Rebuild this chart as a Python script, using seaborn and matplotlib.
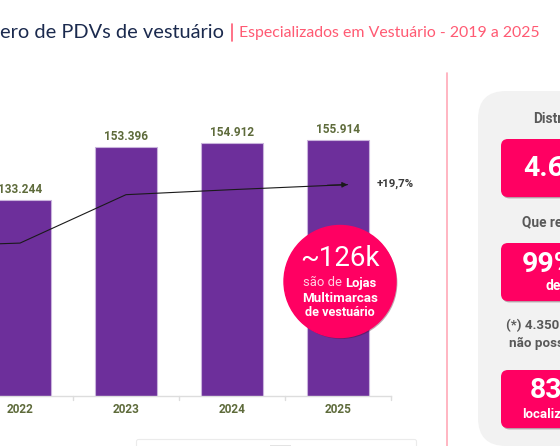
# Numero de PDVs de vestuario - bars plus trend line
import matplotlib
matplotlib.use("Agg")
import matplotlib.pyplot as plt
import matplotlib.patheffects as pe
from matplotlib.patches import Circle, FancyBboxPatch, Rectangle
import pandas as pd
import seaborn as sns

years = ["2022", "2023", "2024", "2025"]
pdvs = [133244, 153396, 154912, 155914]
bar_labels = ["133.244", "153.396", "154.912", "155.914"]

# trend line (position in year slots, value on the bar scale)
trend_pos = [-1.0, 0.0, 1.0, 2.0, 3.09]
trend_val = [115800, 117100, 135400, 137300, 139200]

sns.set_theme(style="white")
plt.rcParams["font.family"] = ["Roboto", "DejaVu Sans"]

purple = "#6D2F9B"
pink = "#FF0062"
olive = "#5E6B3B"
gray_txt = "#595959"

df = pd.DataFrame({"year": years, "pdvs": pdvs})

fig = plt.figure(figsize=(5.6, 4.46), dpi=100)

# bars: full canvas wide down to the base line at y=396
ax = fig.add_axes([0, (446 - 396) / 446, 391 / 560, 396 / 446])
sns.barplot(data=df, x="year", y="pdvs", order=years, color=purple, width=0.585,
            saturation=1, edgecolor="#C9B3DC", linewidth=0.8, ax=ax)
ax.set_xlim(-20 / 106, 3.5)
ax.set_ylim(59300, 59300 + 396 * 378)
ax.set_xlabel("")
ax.set_ylabel("")
ax.set_yticks([])
ax.set_xticks(range(4))
ax.set_xticklabels(years, color=olive, fontweight="bold", fontsize=8.5)
ax.tick_params(axis="x", length=0, pad=5)
for s in ["top", "left", "right"]:
    ax.spines[s].set_visible(False)
ax.spines["bottom"].set_color("#DDDDDD")
ax.spines["bottom"].set_linewidth(1)
ax.patch.set_alpha(0)

for i, lab in enumerate(bar_labels):
    ax.annotate(lab, (i, pdvs[i]), xytext=(0, 3), textcoords="offset points",
                ha="center", va="bottom", color=olive, fontweight="bold", fontsize=8.5)

# trend line with arrow head
sns.lineplot(x=trend_pos, y=trend_val, color="#1A1A1A", linewidth=0.8, ax=ax, legend=False)
ax.annotate("", xy=(trend_pos[-1], trend_val[-1]), xytext=(trend_pos[-2] + 0.9, trend_val[-2] + 1650),
            arrowprops=dict(arrowstyle="-|>", color="#1A1A1A", lw=0.8, mutation_scale=8, shrinkA=0, shrinkB=0))

# overlay in pixel coordinates for the slide furniture
ov = fig.add_axes([0, 0, 1, 1])
ov.set_xlim(0, 560)
ov.set_ylim(446, 0)
ov.axis("off")
ov.patch.set_alpha(0)

ov.text(377, 184, "+19,7%", color="#3A3A3A", fontweight="bold", fontsize=8.2, va="center")

for x in [73, 179, 285, 391]:
    ov.plot([x, x], [396, 400], color="#DDDDDD", lw=1)

ov.text(0, 32, "ero de PDVs de vestuário", fontsize=14.45, color="#1B2A4E", va="center", family="Lato")
ov.plot([231.5, 231.5], [24, 41], color="#FF5A73", lw=1.2)
ov.text(239, 33.5, "Especializados em Vestuário - 2019 a 2025", fontsize=11.4, color="#FF5A73",
        va="center", family="Lato")

# callout circle
shadow = [pe.SimplePatchShadow(offset=(1, -1), alpha=0.35), pe.Normal()]
ov.add_patch(Circle((340, 281.5), 56, color=pink, path_effects=shadow, zorder=5))
ov.text(340, 259, "~126k", color="white", fontsize=20, ha="center", va="center", zorder=6)
ov.text(342, 283, "são de", color="#FFD0E2", fontsize=9.4, ha="right", va="center", zorder=6)
ov.text(345, 283, "Lojas", color="white", fontsize=9.4, fontweight="bold", ha="left", va="center", zorder=6)
ov.text(340, 298, "Multimarcas", color="white", fontsize=9.6, fontweight="bold", ha="center", va="center", zorder=6)
ov.text(340, 313, "de vestuário", color="white", fontsize=9.1, fontweight="bold", ha="center", va="center", zorder=6)

# divider and right panel
ov.plot([447, 447], [73, 446], color="#FFA9B8", lw=1.2)
ov.add_patch(FancyBboxPatch((478, 91), 200, 355, boxstyle="round,pad=0,rounding_size=28",
                            fc="#F2F2F2", ec="none"))
for y0 in [139, 243, 370]:
    ov.add_patch(FancyBboxPatch((507, y0 + 6), 100, 46, boxstyle="round,pad=6,rounding_size=7",
                                fc=pink, ec="none", path_effects=shadow))

ov.text(533, 119, "Distr", color=gray_txt, fontsize=9.8, fontweight="bold", va="center")
ov.text(523, 168, "4.60", color="white", fontsize=20.5, fontweight="bold", va="center")
ov.text(521.7, 222, "Que re", color=gray_txt, fontsize=9.8, fontweight="bold", va="center")
ov.text(522, 264, "99%", color="white", fontsize=20.5, fontweight="bold", va="center")
ov.text(545, 286, "de", color="white", fontsize=10, fontweight="bold", va="center")
ov.text(506.5, 326, "(*) 4.350", color=gray_txt, fontsize=9.6, fontweight="bold", va="center")
ov.text(509, 343, "não poss", color=gray_txt, fontsize=9.6, fontweight="bold", va="center")
ov.text(530, 391, "83%", color="white", fontsize=20.5, fontweight="bold", va="center")
ov.text(522, 414, "localiz", color="white", fontsize=9.5, fontweight="bold", va="center")

# top of the legend box cut by the canvas edge
ov.add_patch(FancyBboxPatch((136.5, 439.5), 280, 20, boxstyle="round,pad=0,rounding_size=2",
                            fc="white", ec="#EBEBEB", lw=0.8))
ov.add_patch(Rectangle((270, 445), 21, 1, fc="#E3E3E3", ec="none"))

fig.savefig("out.png", dpi=100)
